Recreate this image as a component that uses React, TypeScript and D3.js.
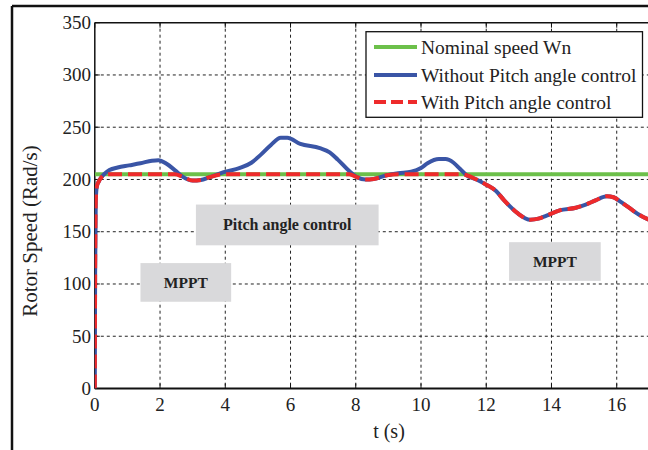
import React from "react";
import * as d3 from "d3";

const timeS = [0, 0.01, 0.03, 0.06, 0.12, 0.2, 0.3, 0.45, 0.7, 1.05, 1.4, 1.75, 1.95, 2.2, 2.45, 2.7, 3.0, 3.25, 3.5, 3.95, 4.45, 4.8, 5.1, 5.4, 5.7, 5.9, 6.3, 6.9, 7.2, 7.45, 7.8, 8.05, 8.3, 8.55, 8.95, 9.3, 9.7, 10.0, 10.2, 10.55, 10.75, 11.0, 11.2, 11.4, 11.7, 12.0, 12.3, 12.55, 12.95, 13.35, 13.6, 13.85, 14.25, 14.75, 15.05, 15.35, 15.7, 15.9, 16.1, 16.4, 16.7, 16.95, 17.2];

const withoutPitch = [0, 110, 180, 193, 198, 202, 205.5, 209, 211.5, 213.5, 215.5, 218, 218.5, 215, 209, 202.5, 199, 199.5, 202, 207, 211, 216, 224, 233, 240, 240, 234, 230, 226, 219, 208, 202, 200, 200.5, 204, 206, 207.5, 211, 215.5, 219.5, 219.5, 216, 210, 204, 200, 195, 189, 180, 168, 161.5, 162.5, 165.5, 170.5, 173, 176, 180, 184, 183, 179, 172.5, 166, 162, 159];

const withPitch = [0, 110, 180, 193, 198, 202, 204.5, 205, 205, 205, 205, 205, 205, 205, 205, 202.5, 199, 199.5, 202, 205, 205, 205, 205, 205, 205, 205, 205, 205, 205, 205, 205, 202, 200, 200.5, 204, 205, 205, 205, 205, 205, 205, 205, 205, 204, 200, 195, 189, 180, 168, 161.5, 162.5, 165.5, 170.5, 173, 176, 180, 184, 183, 179, 172.5, 166, 162, 159];

const nominalSpeed = 205;
const nominalTimes = [0, 20];

const xGrid = [0, 2, 4, 6, 8, 10, 12, 14, 16, 18, 20];
const xTickLabels = [0, 2, 4, 6, 8, 10, 12, 14, 16];
const yTicks = [0, 50, 100, 150, 200, 250, 300, 350];

const legendLabels = ["Nominal speed Wn", "Without Pitch angle control", "With Pitch angle control"];

const annotations = [
  { label: "Pitch angle control", t0: 3.1, t1: 8.7, v0: 137, v1: 176, size: 16 },
  { label: "MPPT", t0: 1.4, t1: 4.18, v0: 83, v1: 120, size: 15.5 },
  { label: "MPPT", t0: 12.7, t1: 15.51, v0: 103, v1: 140, size: 15.5 },
];

const W = 648;
const H = 450;
const L = 94.8;
const T = 22.7;
const B = 388.5;
const R = L + 20 * 32.62;

const GREEN = "#6cc04a";
const BLUE = "#3a55a6";
const RED = "#ee2a2b";
const SERIF = "'Liberation Serif', 'Times New Roman', serif";

export default function App() {
  const x = d3.scaleLinear().domain([0, 20]).range([L, R]);
  const y = d3.scaleLinear().domain([0, 350]).range([B, T]);

  const line = d3
    .line<[number, number]>()
    .x((d) => x(d[0]))
    .y((d) => y(d[1]))
    .curve(d3.curveMonotoneX);

  const blueData = timeS.map((t, i) => [t, withoutPitch[i]] as [number, number]);
  const redData = timeS.map((t, i) => [t, withPitch[i]] as [number, number]);
  const greenData = nominalTimes.map((t) => [t, nominalSpeed] as [number, number]);

  const legX = 366;
  const legY = 31.7;
  const legW = 276.5;
  const legH = 85.6;
  const rowY = [47, 75, 102];
  const legColors = [GREEN, BLUE, RED];

  return (
    <svg
      width={W}
      height={H}
      style={{ position: "absolute", left: 0, top: 0, background: "#fff" }}
      fontFamily={SERIF}
    >
      <defs>
        <clipPath id="plotclip">
          <rect x={L} y={T - 3} width={R - L} height={B - T + 3} />
        </clipPath>
      </defs>
      <rect x={0} y={0} width={W} height={H} fill="#fff" />
      {/* outer frame */}
      <line x1={12} y1={6} x2={W} y2={6} stroke="#111" strokeWidth={2.5} />
      <line x1={12} y1={6} x2={12} y2={H} stroke="#111" strokeWidth={2.5} />

      {/* grid */}
      {xGrid.filter((t) => t > 0).map((t) => (
        <line key={"gx" + t} x1={x(t)} x2={x(t)} y1={T} y2={B} stroke="#222" strokeWidth={1} strokeDasharray="3 3" />
      ))}
      {yTicks.filter((v) => v > 0 && v < 350).map((v) => (
        <line key={"gy" + v} x1={L} x2={R} y1={y(v)} y2={y(v)} stroke="#222" strokeWidth={1} strokeDasharray="3 3" />
      ))}

      {/* annotation boxes */}
      {annotations.map((a, i) => (
        <g key={"ann" + i}>
          <rect
            x={x(a.t0)}
            y={y(a.v1)}
            width={x(a.t1) - x(a.t0)}
            height={y(a.v0) - y(a.v1)}
            fill="#d9d9db"
          />
          <text
            x={(x(a.t0) + x(a.t1)) / 2}
            y={(y(a.v0) + y(a.v1)) / 2 + 5.5}
            textAnchor="middle"
            fontSize={a.size}
            fontWeight="bold"
            fill="#222"
          >
            {a.label}
          </text>
        </g>
      ))}

      {/* plot frame */}
      <line x1={L} y1={T} x2={R} y2={T} stroke="#111" strokeWidth={1.5} />
      <line x1={L} y1={T} x2={L} y2={B} stroke="#111" strokeWidth={1.5} />
      <line x1={L} y1={B} x2={R} y2={B} stroke="#111" strokeWidth={2} />
      {xGrid.map((t) => (
        <g key={"tx" + t}>
          <line x1={x(t)} x2={x(t)} y1={B} y2={B - 5} stroke="#111" strokeWidth={1} />
          <line x1={x(t)} x2={x(t)} y1={T} y2={T + 5} stroke="#111" strokeWidth={1} />
        </g>
      ))}
      {yTicks.map((v) => (
        <line key={"ty" + v} x1={L} x2={L + 5} y1={y(v)} y2={y(v)} stroke="#111" strokeWidth={1} />
      ))}

      {/* series */}
      <g clipPath="url(#plotclip)">
        <path d={line(greenData) || ""} fill="none" stroke={GREEN} strokeWidth={4} />
        <path d={line(blueData) || ""} fill="none" stroke={BLUE} strokeWidth={4} strokeLinejoin="round" />
        <path d={line(redData) || ""} fill="none" stroke={RED} strokeWidth={4} strokeDasharray="14 6" />
      </g>

      {/* tick labels */}
      {xTickLabels.map((t) => (
        <text key={"lx" + t} x={x(t)} y={411} textAnchor="middle" fontSize={19} fill="#222">
          {t}
        </text>
      ))}
      {yTicks.map((v) => (
        <text key={"ly" + v} x={91} y={y(v) + 6.5} textAnchor="end" fontSize={19} fill="#222">
          {v}
        </text>
      ))}

      {/* axis titles */}
      <text x={389} y={438} textAnchor="middle" fontSize={20} fill="#222">
        t (s)
      </text>
      <text
        transform={`translate(37, 231) rotate(-90)`}
        textAnchor="middle"
        fontSize={21}
        fill="#222"
      >
        Rotor Speed (Rad/s)
      </text>

      {/* legend */}
      <rect x={legX} y={legY} width={legW} height={legH} fill="#fff" stroke="#111" strokeWidth={1.3} />
      {legendLabels.map((lab, i) => (
        <g key={"leg" + i}>
          <line
            x1={374}
            x2={417}
            y1={rowY[i]}
            y2={rowY[i]}
            stroke={legColors[i]}
            strokeWidth={4}
            strokeDasharray={i === 2 ? "12 5" : undefined}
          />
          <text x={421} y={rowY[i] + 6.5} fontSize={19.5} fill="#222">
            {lab}
          </text>
        </g>
      ))}
    </svg>
  );
}
